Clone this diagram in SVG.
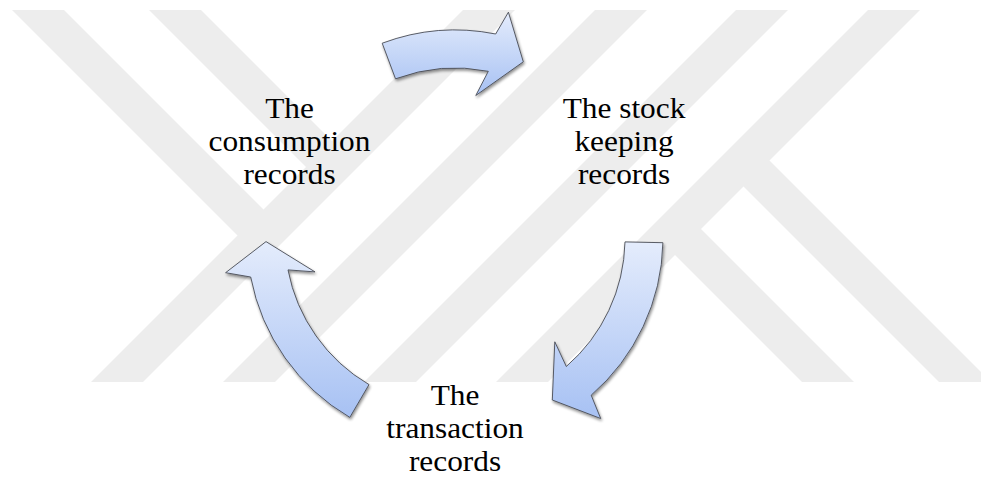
<svg xmlns="http://www.w3.org/2000/svg" width="981" height="477" viewBox="0 0 981 477">
  <defs>
    <style>
      .mark { fill: #ededed; }
      .arrow { fill: url(#arrowFill); stroke: #484c55; stroke-width: 0.9; stroke-linejoin: miter; filter: url(#softShadow); }
      .label { font-family: "Liberation Serif", "Times New Roman", serif; font-size: 30px; fill: #000; text-anchor: middle; }
    </style>
    <linearGradient id="arrowFill" x1="0" y1="0" x2="0" y2="1">
      <stop offset="0" stop-color="#e4ecfc"/>
      <stop offset="1" stop-color="#a7c1f3"/>
    </linearGradient>
    <filter id="softShadow" x="-20%" y="-20%" width="140%" height="140%">
      <feGaussianBlur in="SourceAlpha" stdDeviation="1.6"/>
      <feOffset dx="1.2" dy="1.8" result="blur"/>
      <feComponentTransfer><feFuncA type="linear" slope="0.45"/></feComponentTransfer>
      <feMerge><feMergeNode/><feMergeNode in="SourceGraphic"/></feMerge>
    </filter>
  </defs>

  <rect width="981" height="477" fill="#ffffff"/>

  <!-- background emblem: diagonal stripes -->
  <g id="emblem">
    <polygon class="mark" points="463,10 515,10 143,382 91,382"/>
    <polygon class="mark" points="595,10 647,10 275,382 223,382"/>
    <polygon class="mark" points="736,10 788,10 416,382 364,382"/>
    <polygon class="mark" points="868,10 920,10 548,382 496,382"/>
    <polygon class="mark" points="12,10 64,10 277,223 251,249"/>
    <polygon class="mark" points="149,10 201,10 345.5,154.5 319.5,180.5"/>
    <polygon class="mark" points="662.5,242.5 688.5,216.5 854,382 802,382"/>
    <polygon class="mark" points="731,174 757,148 981,372 981,382 939,382"/>
  </g>

  <!-- curved arrows of the cycle -->
  <g id="connectors">
    <path id="arrow-top" class="arrow" d="M382.2,43.2 A208,208 0 0 1 495.7,34.0 L508.4,12.2 L523.3,61.8 L475.8,95.5 L488.3,71.3 A170,170 0 0 0 395.5,78.8 Z"/>
    <path id="arrow-right" class="arrow" d="M662.9,242.7 A208,208 0 0 1 591.2,395.2 L600.7,418.5 L552.3,400 L554.8,341.8 L566.3,366.5 A170,170 0 0 0 625,241.9 Z"/>
    <path id="arrow-left" class="arrow" d="M349.8,417.4 A208,208 0 0 1 250.7,277 L225.6,272.7 L266,241.6 L315,271.9 L288,269.9 A170,170 0 0 0 369,384.6 Z"/>
  </g>

  <g id="node-consumption" transform="translate(289.5,0) scale(1.045,1)">
    <text class="label" x="0" y="118">The</text>
    <text class="label" x="0" y="151">consumption</text>
    <text class="label" x="0" y="184">records</text>
  </g>

  <g id="node-stock" transform="translate(624,0) scale(1.045,1)">
    <text class="label" x="0" y="118">The stock</text>
    <text class="label" x="0" y="151">keeping</text>
    <text class="label" x="0" y="184">records</text>
  </g>

  <g id="node-transaction" transform="translate(455,0) scale(1.045,1)">
    <text class="label" x="0" y="405">The</text>
    <text class="label" x="0" y="438">transaction</text>
    <text class="label" x="0" y="471">records</text>
  </g>
</svg>
